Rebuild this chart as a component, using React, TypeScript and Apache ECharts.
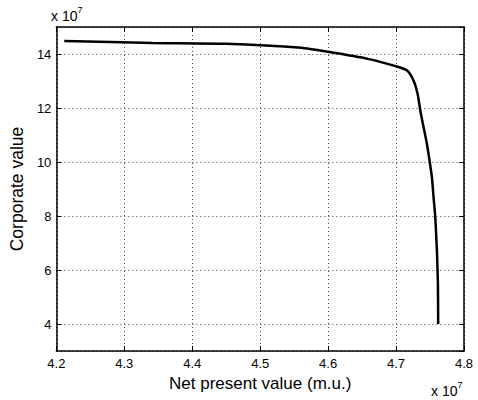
import { useEffect, useRef } from "react";
import * as echarts from "echarts";

// values in units of 10^7
const npv = [4.2117, 4.3416, 4.4496, 4.5606, 4.6, 4.6584, 4.6993, 4.7163, 4.726, 4.7318, 4.7358, 4.7406, 4.7455, 4.7493, 4.7528, 4.7552, 4.7577, 4.7601, 4.7616, 4.762];
const corp = [14.48, 14.41, 14.38, 14.23, 14.08, 13.82, 13.55, 13.39, 13.0, 12.51, 11.89, 11.28, 10.66, 10.05, 9.43, 8.69, 7.96, 6.73, 5.5, 4.0];

const xTitle = "Net present value (m.u.)";
const yTitle = "Corporate value";

const FONT = "'Liberation Sans', Arial, Helvetica, sans-serif";

export default function App() {
  const ref = useRef<HTMLDivElement>(null);
  useEffect(() => {
    if (!ref.current) return;
    const chart = echarts.init(ref.current, undefined, { renderer: "svg" });
    const gridStyle = { show: true, lineStyle: { color: "#444", width: 1, type: [1, 3] as any } };
    const tick = { show: true, inside: true, length: 5, lineStyle: { color: "#000", width: 1 } };
    const line = { show: true, lineStyle: { color: "#000", width: 1.5 } };
    const expRich = {
      a: { fontSize: 14, fontFamily: FONT, fill: "#000", verticalAlign: "bottom" },
      b: { fontSize: 9, fontFamily: FONT, fill: "#000", verticalAlign: "top", padding: [0, 0, 9, 0] },
    };
    chart.setOption({
      animation: false,
      backgroundColor: "#fff",
      grid: { left: 53, top: 27, right: 14, bottom: 49 },
      xAxis: [
        {
          type: "value", min: 4.2, max: 4.8, interval: 0.1,
          axisLine: line, axisTick: tick, splitLine: gridStyle,
          axisLabel: { color: "#000", fontSize: 13, fontFamily: FONT, margin: 6, formatter: (v: number) => v.toFixed(1) },
          name: xTitle, nameLocation: "middle", nameGap: 23,
          nameTextStyle: { color: "#000", fontSize: 17, fontFamily: FONT },
        },
        {
          type: "value", position: "top", min: 4.2, max: 4.8, interval: 0.1,
          axisLine: line, axisTick: tick, splitLine: { show: false }, axisLabel: { show: false },
        },
      ],
      yAxis: [
        {
          type: "value", min: 3, max: 15, splitNumber: 6,
          axisLine: line, axisTick: tick, splitLine: gridStyle,
          axisLabel: { color: "#000", fontSize: 13, fontFamily: FONT, margin: 5, showMinLabel: false, showMaxLabel: false },
          name: yTitle, nameLocation: "middle", nameGap: 27,
          nameTextStyle: { color: "#000", fontSize: 17.5, fontFamily: FONT },
        },
        {
          type: "value", position: "right", min: 3, max: 15, splitNumber: 6,
          axisLine: line, axisTick: tick, splitLine: { show: false }, axisLabel: { show: false },
        },
      ],
      graphic: [
        {
          type: "text", left: 51, top: 5,
          style: { text: "{a|x 10}{b|7}", fill: "#000", rich: expRich },
        },
        {
          type: "text", left: 431, top: 380,
          style: { text: "{a|x 10}{b|7}", fill: "#000", rich: expRich },
        },
      ],
      series: [
        {
          type: "line",
          data: npv.map((x, i) => [x, corp[i]]),
          showSymbol: false,
          smooth: 0.2,
          lineStyle: { color: "#000", width: 2.5 },
        },
      ],
    });
    return () => chart.dispose();
  }, []);
  return <div ref={ref} style={{ width: 478, height: 400, position: "absolute", left: 0, top: 0 }} />;
}
